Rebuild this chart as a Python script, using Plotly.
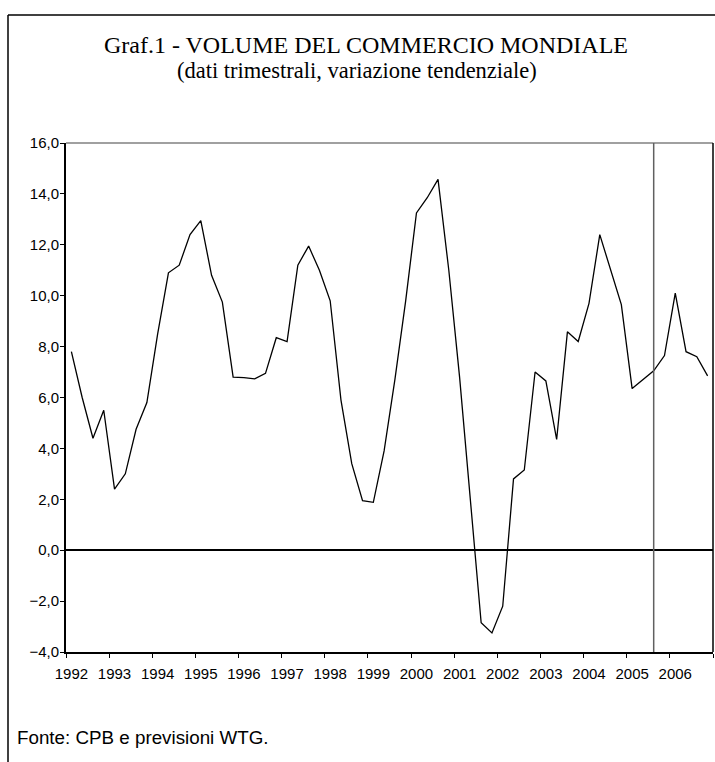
import plotly.graph_objects as go

# ---- data ----
years = list(range(1992, 2007))
quarters = ["I", "II", "III", "IV"]
values = [
    7.8, 6.0, 4.4, 5.5,      # 1992
    2.4, 3.0, 4.75, 5.8,     # 1993
    8.5, 10.9, 11.2, 12.4,   # 1994
    12.95, 10.8, 9.75, 6.8,  # 1995
    6.78, 6.73, 6.95, 8.35,  # 1996
    8.2, 11.2, 11.95, 11.0,  # 1997
    9.8, 5.9, 3.4, 1.95,     # 1998
    1.88, 3.9, 6.7, 9.8,     # 1999
    13.25, 13.85, 14.57, 11.0,  # 2000
    6.8, 2.0, -2.85, -3.25,  # 2001
    -2.2, 2.8, 3.15, 7.0,    # 2002
    6.65, 4.35, 8.58, 8.2,   # 2003
    9.7, 12.4, 11.0, 9.65,   # 2004
    6.35, 6.7, 7.05, 7.65,   # 2005
    10.1, 7.8, 7.6, 6.85,    # 2006
]
forecast_start = (2005, "III")   # start of WTG forecasts
y_ticks = [-4, -2, 0, 2, 4, 6, 8, 10, 12, 14, 16]

title = "Graf.1 - VOLUME DEL COMMERCIO MONDIALE"
subtitle = "(dati trimestrali, variazione tendenziale)"
source = "Fonte: CPB e previsioni WTG."

# ---- derived positions ----
idx = list(range(len(values)))
year_pos = [i * 4 for i in range(len(years))]
fc_idx = (forecast_start[0] - years[0]) * 4 + quarters.index(forecast_start[1])

W, H = 715, 762
ml, mr, mt, mb = 66, 2, 143, 110
pw, ph = W - ml - mr, H - mt - mb


def px_x(p):
    return (p - ml) / pw


def px_y(p):
    return (H - mb - p) / ph


fig = go.Figure()
fig.add_trace(go.Scatter(x=idx, y=values, mode="lines",
                         line=dict(color="black", width=1.3),
                         hoverinfo="y", showlegend=False))

serif = "Liberation Serif, Times New Roman, serif"
sans = "Liberation Sans, Arial, sans-serif"

fig.update_layout(
    width=W, height=H,
    margin=dict(l=ml, r=mr, t=mt, b=mb, pad=0, autoexpand=False),
    paper_bgcolor="white", plot_bgcolor="white",
    separators=",.",
    xaxis=dict(
        range=[-0.5, len(values) - 0.5],
        tickmode="array", tickvals=year_pos, ticktext=[str(y) for y in years],
        ticks="", showgrid=False, zeroline=False,
        showline=True, linecolor="black", linewidth=1.5,
        tickfont=dict(family="Liberation Sans Narrow, Arial Narrow, " + sans, size=15, color="black"),
        ticklabelstandoff=7,
        minor=dict(tickmode="linear", tick0=-0.5, dtick=4, ticks="outside",
                   ticklen=4, tickwidth=1, tickcolor="black", showgrid=False),
    ),
    yaxis=dict(
        range=[-4, 16], tickmode="array", tickvals=y_ticks, tickformat=".1f",
        ticks="outside", ticklen=4, tickwidth=1, tickcolor="black",
        showgrid=False, zeroline=True, zerolinecolor="black", zerolinewidth=1.5,
        showline=True, linecolor="black", linewidth=2,
        ticklabelstandoff=-2,
        tickfont=dict(family=sans, size=15, color="black"),
    ),
)

# plot-area borders: top (grey) and right (black)
fig.add_shape(type="line", xref="paper", yref="paper", x0=0, x1=1, y0=1, y1=1,
              line=dict(color="#808080", width=1.5))
fig.add_shape(type="line", xref="paper", yref="paper", x0=1, x1=1, y0=0, y1=1,
              line=dict(color="black", width=1.5))
# forecast marker
fig.add_shape(type="line", xref="x", yref="paper", x0=fc_idx, x1=fc_idx, y0=0, y1=1,
              line=dict(color="#606060", width=1.5))
# outer frame (top and left)
fig.add_shape(type="line", xref="paper", yref="paper",
              x0=px_x(8), x1=px_x(W + 5), y0=px_y(15), y1=px_y(15),
              line=dict(color="black", width=1.5))
fig.add_shape(type="line", xref="paper", yref="paper",
              x0=px_x(8), x1=px_x(8), y0=px_y(15), y1=px_y(H + 5),
              line=dict(color="black", width=1.5))

fig.add_annotation(text=title, xref="paper", yref="paper", x=px_x(366), y=px_y(45),
                   xanchor="center", yanchor="middle", showarrow=False,
                   font=dict(family=serif, size=24, color="black"))
fig.add_annotation(text=subtitle, xref="paper", yref="paper", x=px_x(357), y=px_y(71),
                   xanchor="center", yanchor="middle", showarrow=False,
                   font=dict(family=serif, size=22.5, color="black"))
fig.add_annotation(text=source, xref="paper", yref="paper", x=px_x(15), y=px_y(737),
                   xanchor="left", yanchor="middle", showarrow=False,
                   font=dict(family=sans, size=18.8, color="black"))

fig.write_html(
    "out.html",
    config={"displayModeBar": False},
    post_script="document.body.style.margin='0';document.body.style.overflow='hidden';",
)
